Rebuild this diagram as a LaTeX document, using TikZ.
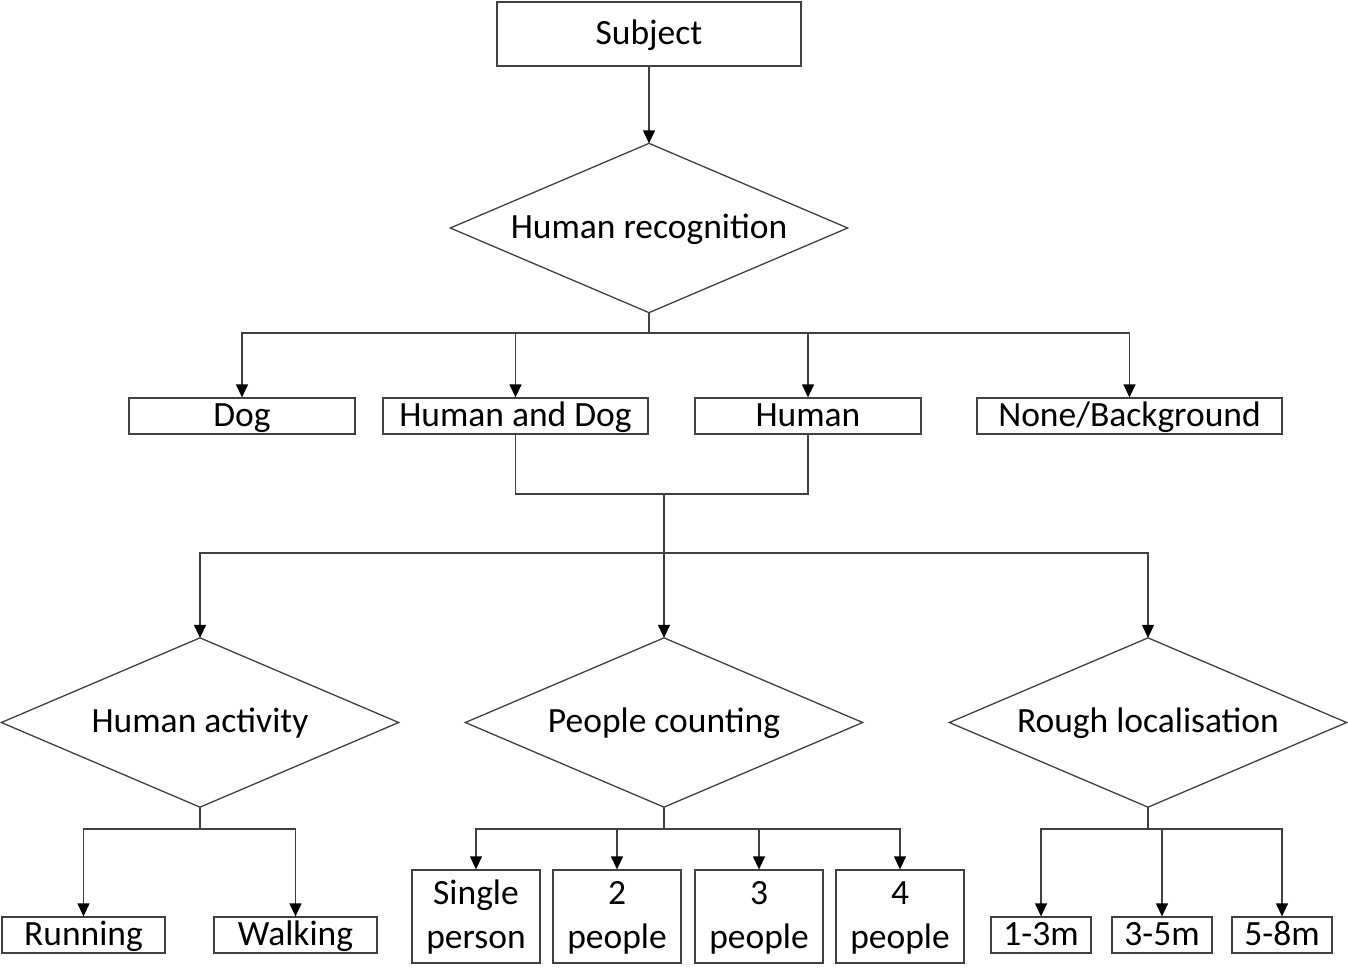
\documentclass[tikz,border=0pt]{standalone}
\usepackage{fontspec}
\setmainfont{Carlito}
\usetikzlibrary{arrows.meta}
\tikzset{
  base/.style={line width=1.3pt, inner sep=0pt, font=\fontsize{35.5}{44}\selectfont, align=center, text height=20pt, text depth=0pt},
  box/.style={base, rectangle, draw=black!75},
  twoline/.style={box, minimum width=128pt, minimum height=93pt, text height=64pt},
  dia/.style={base, rectangle, minimum width=396pt, minimum height=168pt},
  diaedge/.style={draw=black!75, line width=1.3pt, line join=miter},
  conn/.style={draw=black!75, line width=1.3pt},
  arr/.style={conn, -{Triangle[length=13pt,width=12pt,color=black]}},
}
\begin{document}
\begin{tikzpicture}[x=1pt,y=-1pt]
\useasboundingbox (0,0) rectangle (1348,978);
% top
\node[box, minimum width=304pt, minimum height=64pt] (subj) at (649,34) {Subject};
\node[dia] (hr) at (649,228) {Human recognition};
% level 2
\node[box, minimum width=226pt, minimum height=36pt] (dog) at (242,416) {Dog};
\node[box, minimum width=265pt, minimum height=36pt] (hd) at (515.5,416) {Human and Dog};
\node[box, minimum width=226pt, minimum height=36pt] (hum) at (808,416) {Human};
\node[box, minimum width=305pt, minimum height=36pt] (none) at (1129.5,416) {None/Background};
% level 3
\node[dia] (ha) at (200,722.5) {Human activity};
\node[dia] (pc) at (664,722.5) {People counting};
\node[dia] (rl) at (1148,722.5) {Rough localisation};
\foreach \d in {hr,ha,pc,rl}
  \draw[diaedge] (\d.north) -- (\d.east) -- (\d.south) -- (\d.west) -- cycle;
% leaves
\node[box, minimum width=163pt, minimum height=36pt] (run) at (83.5,935) {Running};
\node[box, minimum width=163pt, minimum height=36pt] (walk) at (295.5,935) {Walking};
\node[twoline] (p1) at (476,916.5) {Single\\person};
\node[twoline] (p2) at (617,916.5) {2\\people};
\node[twoline] (p3) at (759,916.5) {3\\people};
\node[twoline] (p4) at (900,916.5) {4\\people};
\node[box, minimum width=100pt, minimum height=36pt] (d1) at (1041,935) {1-3m};
\node[box, minimum width=100pt, minimum height=36pt] (d2) at (1162,935) {3-5m};
\node[box, minimum width=100pt, minimum height=36pt] (d3) at (1282,935) {5-8m};
% junctions
\coordinate (j1) at (649,333);
\coordinate (j2) at (664,494);
\coordinate (j3) at (664,553);
\coordinate (j4) at (200,829);
\coordinate (j5) at (664,829);
\coordinate (j6) at (1148,829);
% connectors
\draw[arr] (subj.south) -- (hr.north);
\draw[conn] (hr.south) -- (j1);
\draw[arr] (j1) -| (dog.north);
\draw[arr] (j1) -| (hd.north);
\draw[arr] (j1) -| (hum.north);
\draw[arr] (j1) -| (none.north);
\draw[conn] (hd.south) |- (j2);
\draw[conn] (hum.south) |- (j2);
\draw[conn] (j2) -- (j3);
\draw[arr] (j3) -| (ha.north);
\draw[arr] (j3) -- (pc.north);
\draw[arr] (j3) -| (rl.north);
\draw[conn] (ha.south) -- (j4);
\draw[arr] (j4) -| (run.north);
\draw[arr] (j4) -| (walk.north);
\draw[conn] (pc.south) -- (j5);
\draw[arr] (j5) -| (p1.north);
\draw[arr] (j5) -| (p2.north);
\draw[arr] (j5) -| (p3.north);
\draw[arr] (j5) -| (p4.north);
\draw[conn] (rl.south) -- (j6);
\draw[arr] (j6) -| (d1.north);
\draw[arr] (j6) -| (d2.north);
\draw[arr] (j6) -| (d3.north);
\end{tikzpicture}
\end{document}
